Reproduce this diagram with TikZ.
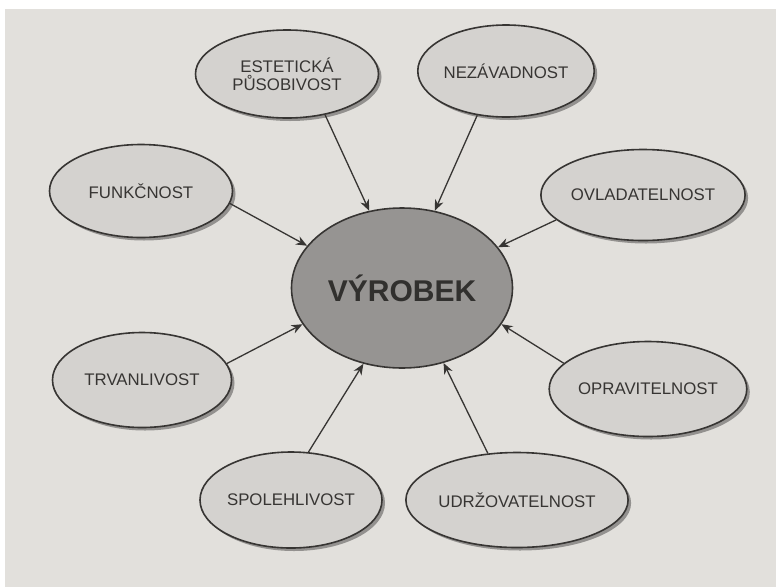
\documentclass[tikz,border=0pt]{standalone}
\usepackage{fontspec}
\setmainfont{Liberation Sans}
\usetikzlibrary{shapes.geometric,arrows.meta,shadows}
\definecolor{paper}{RGB}{226,224,220}
\definecolor{satfill}{RGB}{212,210,207}
\definecolor{ctrfill}{RGB}{150,148,146}
\definecolor{ink}{RGB}{55,53,51}
\tikzset{
  sat/.style={ellipse, draw=ink, line width=1.6pt, fill=satfill, inner sep=0pt,
    text=ink, font=\fontsize{16.8}{17}\selectfont, align=center,
    drop shadow={shadow xshift=3pt, shadow yshift=-3pt, fill=black, opacity=0.35}},
  ctr/.style={ellipse, draw=ink, line width=1.6pt, fill=ctrfill, inner sep=0pt,
    text=ink!90!black, font=\fontsize{30}{32}\selectfont\bfseries,
    minimum width=221pt, minimum height=160pt},
  conn/.style={draw=ink, line width=1.3pt, -{Stealth[length=11pt,width=9pt,inset=3.5pt]}}
}
\begin{document}
\begin{tikzpicture}[x=1pt,y=-1pt]
\useasboundingbox (0,0) rectangle (776,587);
\fill[white] (0,0) rectangle (776,587);
\fill[paper] (5,9) rectangle (776,587);

\node[ctr] (c) at (402,288) {VÝROBEK};

\node[sat, minimum width=183pt, minimum height=88pt] (est) at (287,74) {ESTETICKÁ\\[1pt]PŮSOBIVOST};
\node[sat, minimum width=172pt, minimum height=92pt] (nez) at (506,71) {NEZÁVADNOST};
\node[sat, minimum width=183pt, minimum height=93pt] (fun) at (141,191) {FUNKČNOST};
\node[sat, minimum width=180pt, minimum height=91pt] (ovl) at (643,195) {OVLADATELNOST};
\node[sat, minimum width=179pt, minimum height=95pt] (trv) at (142,380) {TRVANLIVOST};
\node[sat, minimum width=177pt, minimum height=95pt] (opr) at (648,389) {OPRAVITELNOST};
\node[sat, minimum width=182pt, minimum height=96pt] (spo) at (291,500) {SPOLEHLIVOST};
\node[sat, minimum width=172pt, minimum height=95pt] (udr) at (517,500) {UDRŽOVATELNOST};

\draw[conn] (est.313) -- (c.113.6);
\draw[conn] (nez.237.5) -- (c.67);
\draw[conn] (fun.352.5) -- (c.156);
\draw[conn] (ovl.196.4) -- (c.23);
\draw[conn] (trv.11.3) -- (c.200.6);
\draw[conn] (opr.163.3) -- (c.340);
\draw[conn] (spo.70.5) -- (c.243.4);
\draw[conn] (udr.122.8) -- (c.299);
\end{tikzpicture}
\end{document}
